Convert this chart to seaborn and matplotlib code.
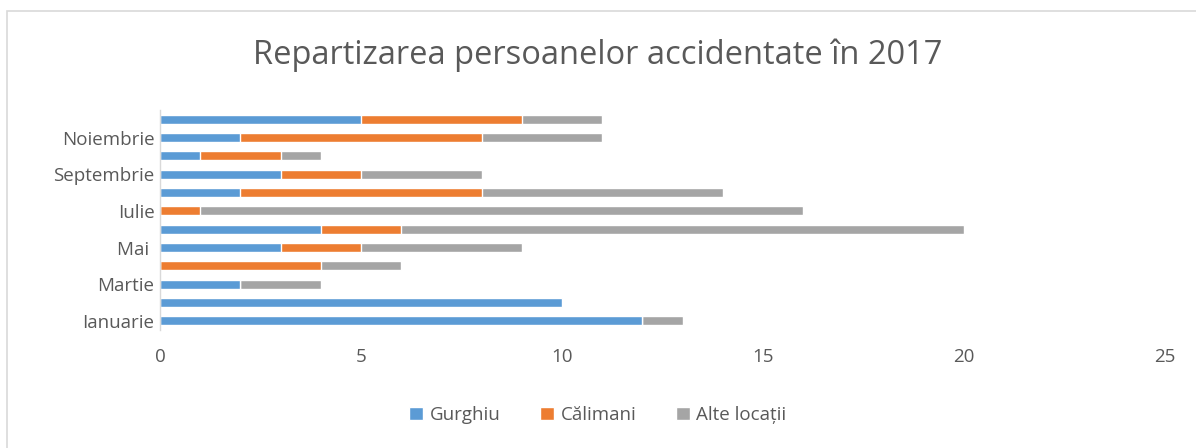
import numpy as np
import pandas as pd
import seaborn as sns
import matplotlib.pyplot as plt
from matplotlib.patches import Patch, Rectangle

luni = ['Ianuarie', 'Februarie', 'Martie', 'Aprilie', 'Mai ', 'Iunie', 'Iulie',
        'August', 'Septembrie', 'Octombrie', 'Noiembrie', 'Decembrie']
gurghiu = [12, 10, 2, 0, 3, 4, 0, 2, 3, 1, 2, 5]
calimani = [0, 0, 0, 4, 2, 2, 1, 6, 2, 2, 6, 4]
alte = [1, 0, 2, 2, 4, 14, 15, 6, 3, 1, 3, 2]

serii = ['Gurghiu', 'Călimani', 'Alte locații']
culori = ['#5b9bd5', '#ed7d31', '#a5a5a5']
text_col = '#595959'

df = pd.DataFrame({'luna': luni, 'Gurghiu': gurghiu, 'Călimani': calimani, 'Alte locații': alte})
df['s1'] = df['Gurghiu']
df['s2'] = df['s1'] + df['Călimani']
df['s3'] = df['s2'] + df['Alte locații']

sns.set_style('white')
plt.rcParams['font.family'] = ['Open Sans', 'DejaVu Sans']

fig = plt.figure(figsize=(11.96, 4.48), dpi=100)
ax = fig.add_axes([160 / 1196, 1 - 330 / 448, (1165 - 160) / 1196, (330 - 110) / 448])

ordine = luni[::-1]
# stacked bars: draw cumulative totals from largest to smallest
for col, c in zip(['s3', 's2', 's1'], culori[::-1]):
    sns.barplot(data=df, x=col, y='luna', order=ordine, color=c, width=0.48,
                saturation=1, ax=ax, orient='h')

ax.set_xlim(0, 25)
ax.set_xticks([0, 5, 10, 15, 20, 25])
ax.set_ylabel('')
ax.set_xlabel('')
ax.set_yticks(range(12))
ax.set_yticklabels([l if i % 2 == 0 else '' for i, l in enumerate(luni)][::-1])
ax.tick_params(axis='both', length=0, labelsize=13.5, colors=text_col)
ax.tick_params(axis='x', pad=13)
ax.tick_params(axis='y', pad=4)
for s in ['top', 'right', 'bottom']:
    ax.spines[s].set_visible(False)
ax.spines['left'].set_color('#d9d9d9')
ax.spines['left'].set_linewidth(1)

fig.text(0.5, 1 - 55 / 448, 'Repartizarea persoanelor accidentate în 2017',
         ha='center', va='center', fontsize=23.5, color=text_col)

handles = [Patch(facecolor=c, label=s) for s, c in zip(serii, culori)]
fig.legend(handles=handles, loc='center', bbox_to_anchor=(0.5, 1 - 415 / 448), ncol=3,
           frameon=False, fontsize=13.5, labelcolor=text_col, handlelength=0.75,
           handleheight=0.75, columnspacing=2.1, handletextpad=0.35)

# chart frame, only its left and top edges fall inside the image
fig.patches.append(Rectangle((6.5 / 1196, -0.1), 1.2, 1.1 - 11.5 / 448, transform=fig.transFigure,
                             fill=False, edgecolor='#d9d9d9', linewidth=1.2))

plt.savefig('out.png', dpi=100)
